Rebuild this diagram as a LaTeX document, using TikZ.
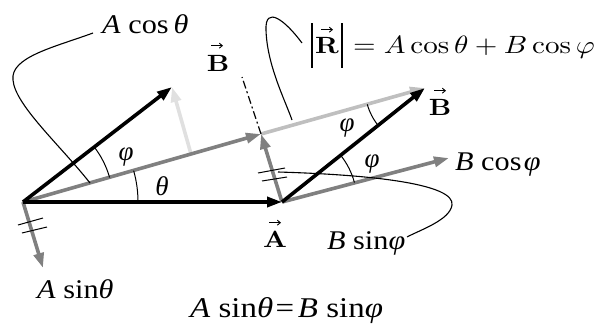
\documentclass[tikz,border=0pt]{standalone}
\usepackage[no-math]{fontspec}
\setmainfont{Liberation Serif}
\usepackage{graphicx}
\usetikzlibrary{arrows.meta}
\definecolor{midgray}{gray}{0.5}
\definecolor{lgray}{gray}{0.75}
\definecolor{vlgray}{gray}{0.88}
\newcommand\hs[1]{\scalebox{1.12}[1]{#1}}
\newcommand\vb[1]{\scalebox{2.75}[2.35]{$\mathbf{#1}$}}
\begin{document}
\begin{tikzpicture}[x=1pt,y=1pt,
  vecline/.style={line width=3.6pt,-{Triangle[length=15pt,width=10pt]}},
  blk/.style={vecline,black},
  gry/.style={vecline,midgray},
  lgry/.style={vecline,lgray},
  vlgry/.style={vecline,vlgray},
  leader/.style={line width=1.1pt,black},
  arcline/.style={line width=1pt,black},
  tickmark/.style={line width=1pt,black},
  barline/.style={line width=1.2pt},
  overarrow/.style={line width=0.9pt,-{Straight Barb[length=3pt,width=5pt]}},
  lab/.style={font=\fontsize{27}{32}\selectfont,inner sep=0pt},
  mlab/.style={font=\fontsize{10}{12}\selectfont,inner sep=0pt}]
\useasboundingbox (0,0) rectangle (598,325);
% key points
\coordinate (O) at (23,123);
\coordinate (At) at (282,123);
\coordinate (Rm) at (261,191);
\coordinate (Bt) at (425,237);
\coordinate (Bc) at (172,238);
\coordinate (Bp) at (191,171);
\coordinate (Bcos) at (449,167);
\coordinate (As) at (43,57);
\coordinate (Dd) at (242,248);
% vectors
\draw[vlgry] (Bp) -- (Bc);
\draw[lgry] (Rm) -- (Bt);
\draw[gry] (O) -- (Rm);
\draw[gry] (At) -- (Rm);
\draw[gry] (O) -- (As);
\draw[gry] (At) -- (Bcos);
\draw[blk] (O) -- (At);
\draw[blk] (O) -- (Bc);
\draw[blk] (At) -- (Bt);
\draw[line width=1.2pt,dash pattern=on 8pt off 3pt on 2pt off 3pt] (Rm) -- (Dd);
% angle arcs
\draw[arcline] (O) ++(0:115) arc[start angle=0,end angle=15.8,radius=115];
\draw[arcline] (O) ++(15.8:90) arc[start angle=15.8,end angle=37.7,radius=90];
\draw[arcline] (At) ++(15:75) arc[start angle=15,end angle=38.7,radius=75];
\draw[arcline] (Bt) ++(195.8:60) arc[start angle=195.8,end angle=218.7,radius=60];
% tick marks
\draw[tickmark] (18,100) -- (43,107);
\draw[tickmark] (22,92) -- (47,98);
\draw[tickmark] (258,152) -- (285,157);
\draw[tickmark] (262,144) -- (287,148);
% labels
\node[lab,anchor=base west] (acos) at (102,292) {\hs{\textit{A} cos\,\textit{θ}}};
\node[mlab,anchor=base] (bv1) at (218,254) {\vb{B}};
\draw[overarrow] ([xshift=-7pt,yshift=9pt]bv1.north) -- ([xshift=5pt,yshift=9pt]bv1.north);
\node[mlab,anchor=base] (rr) at (327,272) {\vb{R}};
\draw[overarrow] ([xshift=-6pt,yshift=7pt]rr.north) -- ([xshift=6pt,yshift=7pt]rr.north);
\coordinate (lbt) at (312,302);
\coordinate (lbb) at (312,257);
\coordinate (rbt) at (342,302);
\coordinate (rbb) at (342,257);
\draw[barline] (lbt) -- (lbb);
\draw[barline] (rbt) -- (rbb);
\node[mlab,anchor=base west] (rf) at (353,272) {\scalebox{2.9}[2.5]{$=A\cos\theta+B\cos\varphi$}};
\node[mlab,anchor=base] (bv2) at (440,210) {\vb{B}};
\draw[overarrow] ([xshift=-6pt,yshift=8pt]bv2.north) -- ([xshift=6pt,yshift=8pt]bv2.north);
\node[lab,anchor=base west] (bcos) at (455,155) {\hs{\textit{B} cos\kern2pt\textit{φ}}};
\node[mlab,anchor=base] (av) at (275,78) {\vb{A}};
\draw[overarrow] ([xshift=-6pt,yshift=8pt]av.north) -- ([xshift=6pt,yshift=8pt]av.north);
\node[lab,anchor=base west] (bsin) at (327,76) {\hs{\textit{B} sin\textit{φ}}};
\node[lab,anchor=base west] (asin) at (37,27) {\hs{\textit{A} sin\textit{θ}}};
\node[lab,anchor=base west] (eq) at (190,8) {\scalebox{1.22}[1.06]{\textit{A} sin\textit{θ}\kern2pt=\kern3pt\textit{B} sin\textit{φ}}};
\node[lab] (th) at (162,139) {\textit{θ}};
\node[lab] (ph1) at (126,168) {\textit{φ}};
\node[lab] (ph2) at (347,197) {\textit{φ}};
\node[lab] (ph3) at (372,161) {\textit{φ}};
% leaders
\coordinate (l1a) at (93,292);
\coordinate (l1b) at (90,142);
\draw[leader] (l1a) .. controls (55,278) and (10,268) .. (13,245) .. controls (15,220) and (60,180) .. (l1b);
\coordinate (l2a) at (302,282);
\coordinate (l2b) at (292,205);
\draw[leader] (l2a) .. controls (285,305) and (265,320) .. (266,295) .. controls (267,260) and (285,225) .. (l2b);
\coordinate (l3a) at (278,153);
\coordinate (l3b) at (407,88);
\draw[leader] (l3a) .. controls (380,150) and (455,140) .. (452,120) .. controls (450,105) and (420,95) .. (l3b);
\end{tikzpicture}
\end{document}
